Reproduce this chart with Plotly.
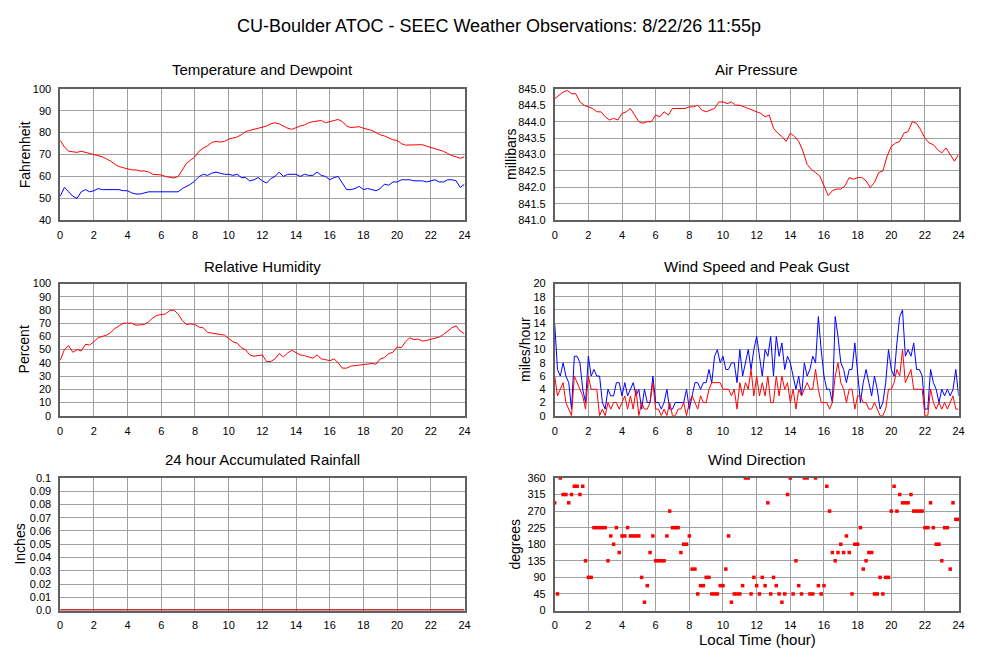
import plotly.graph_objects as go

W, H = 1000, 660

# time stamps in hours
hours_15 = [i / 4 for i in range(97)]
hours_10 = [i / 6 for i in range(145)]
hours_rain = [0, 2, 4, 6, 8, 10, 12, 14, 16, 18, 20, 22, 24]

# Fahrenheit, every 15 minutes (one row per hour)
temperature = [
    76.5, 73.5, 71.5, 71.3,
    71.0, 71.5, 71.0, 70.5,
    70.0, 69.5, 69.0, 68.0,
    67.0, 65.5, 64.5, 64.0,
    63.5, 63.0, 63.0, 62.5,
    62.5, 62.0, 61.0, 60.8,
    60.7, 60.0, 59.5, 59.3,
    60.0, 63.0, 66.0, 67.5,
    69.0, 71.5, 73.0, 74.0,
    75.5, 76.0, 75.7, 76.0,
    77.0, 77.5, 78.0, 79.0,
    80.5, 81.0, 81.5, 82.0,
    82.5, 83.0, 84.0, 84.5,
    84.0, 83.0, 82.0, 81.5,
    82.3, 83.0, 83.5, 84.5,
    85.0, 85.3, 85.5, 84.5,
    85.0, 85.5, 86.0, 85.0,
    83.0, 82.3, 82.5, 82.7,
    82.0, 81.5, 81.0, 80.0,
    79.0, 78.5, 77.5, 76.7,
    76.5, 75.0, 74.3, 74.3,
    74.2, 74.3, 74.5, 73.8,
    73.3, 72.5, 72.0, 71.5,
    70.5, 69.5, 69.0, 68.3,
    69.0,
]

dewpoint = [
    51.0, 55.0, 53.0, 51.0,
    50.0, 53.0, 54.0, 53.0,
    53.5, 54.5, 54.0, 54.0,
    54.0, 54.0, 54.0, 53.5,
    53.5, 52.5, 52.0, 52.0,
    52.5, 53.0, 53.0, 53.0,
    53.0, 53.0, 52.8, 53.0,
    53.0, 54.5, 55.5, 56.5,
    58.0, 60.0, 61.0, 60.5,
    61.5, 62.0, 61.5, 61.0,
    61.0, 60.5, 61.0, 59.5,
    59.5, 58.0, 58.5, 59.5,
    58.0, 57.0, 59.0, 60.0,
    62.0, 60.0, 61.0, 61.0,
    61.0, 60.0, 61.0, 60.5,
    60.5, 62.0, 60.5, 60.0,
    58.5, 59.5, 60.0, 57.0,
    54.0, 54.0, 54.5, 55.5,
    54.0, 54.5, 54.0, 53.5,
    54.5, 56.5, 56.0, 57.5,
    57.5, 58.5, 58.5, 58.5,
    58.0, 58.0, 58.0, 57.5,
    58.0, 58.5, 57.5, 57.5,
    58.5, 58.5, 58.0, 55.0,
    56.5,
]

# millibars
pressure = [
    844.70, 844.80, 844.90, 844.95,
    844.85, 844.85, 844.60, 844.50,
    844.45, 844.40, 844.30, 844.30,
    844.15, 844.05, 844.10, 844.05,
    844.25, 844.30, 844.40, 844.20,
    844.00, 843.95, 844.00, 844.00,
    844.20, 844.15, 844.30, 844.20,
    844.40, 844.40, 844.40, 844.40,
    844.45, 844.45, 844.50, 844.35,
    844.30, 844.35, 844.40, 844.60,
    844.60, 844.55, 844.60, 844.50,
    844.50, 844.45, 844.40, 844.35,
    844.30, 844.25, 844.15, 844.20,
    843.80, 843.65, 843.55, 843.40,
    843.65, 843.55, 843.40, 843.10,
    842.70, 842.55, 842.45, 842.35,
    842.05, 841.75, 841.90, 841.95,
    841.95, 842.05, 842.30, 842.25,
    842.30, 842.30, 842.20, 842.00,
    842.15, 842.45, 842.50, 842.95,
    843.25, 843.35, 843.40, 843.65,
    843.70, 844.00, 843.95, 843.75,
    843.50, 843.35, 843.30, 843.15,
    843.05, 843.20, 843.00, 842.80,
    843.00,
]

# percent
humidity = [
    42, 50, 53, 48,
    50, 49, 54, 53.5,
    56, 59, 60, 61,
    63, 66, 68, 70,
    70, 70, 68.5, 68.5,
    69, 71, 74, 76,
    76.5, 77, 79.5, 80,
    77, 72, 69, 69.5,
    69, 67, 66.5, 63,
    62.5, 62, 61.5, 61,
    58.5, 56, 55, 51.5,
    50, 46, 45, 45.5,
    46, 41, 41, 43,
    47, 44.5, 47.5, 49.5,
    48, 46, 45.5, 44.5,
    43.5, 46, 43, 42.5,
    41.5, 43, 40, 36,
    36, 37.5, 38, 38,
    38.5, 39, 39.5, 39,
    43, 44, 47, 48,
    52, 51.5, 56, 59,
    57.5, 58, 56.5, 57,
    58, 59, 59.5, 61.5,
    64, 66.5, 68, 64,
    62,
]

# miles/hour, every 10 minutes (one row per hour)
wind_speed = [
    6, 3, 4, 5, 2, 1,
    0, 6, 5, 4, 3, 1,
    6, 4, 4, 4, 0, 1,
    0, 2, 1, 2, 2, 1,
    2, 3, 1, 3, 1, 4,
    0, 2, 1, 1, 2, 5,
    1, 1, 0, 1, 0, 2,
    0, 0, 1, 1, 2, 0,
    2, 3, 2, 1, 3, 2,
    2, 4, 5, 5, 5, 5,
    4, 4, 4, 3, 4, 1,
    5, 3, 5, 4, 7, 3,
    6, 3, 5, 3, 6, 2,
    2, 6, 3, 6, 4, 5,
    2, 4, 1, 4, 3, 4,
    5, 4, 4, 7, 4, 2,
    2, 2, 1, 2, 6, 8,
    5, 4, 2, 4, 4, 1,
    3, 3, 2, 2, 1, 1,
    2, 1, 0, 0, 1, 4,
    4, 5, 7, 6, 10, 5,
    6, 7, 4, 4, 4, 4,
    0, 0, 4, 2, 1, 2,
    1, 2, 1, 2, 3, 1,
    1,
]

peak_gust = [
    14, 7, 6, 8, 6, 5,
    1, 9, 9, 8, 4, 2,
    9, 6, 7, 6, 6, 2,
    1, 4, 3, 3, 5, 5,
    3, 5, 3, 4, 5, 3,
    4, 1, 4, 2, 2, 6,
    2, 2, 1, 2, 4, 1,
    1, 2, 2, 2, 2, 4,
    1, 3, 5, 5, 4, 5,
    5, 7, 5, 9, 10, 8,
    9, 7, 7, 8, 8, 5,
    10, 6, 8, 10, 7, 10,
    12, 9, 6, 10, 9, 12,
    6, 12, 9, 11, 7, 9,
    8, 6, 4, 6, 3, 8,
    6, 7, 9, 8, 15, 10,
    6, 4, 4, 2, 15, 12,
    8, 7, 5, 7, 7, 11,
    6, 2, 5, 7, 5, 3,
    6, 4, 1, 2, 5, 10,
    7, 6, 11, 15, 16, 9,
    10, 9, 11, 7, 7, 6,
    1, 1, 7, 5, 4, 2,
    4, 3, 4, 3, 4, 7,
    3,
]

# degrees
wind_dir = [
    292.5, 45, 360, 315, 315, 292.5,
    315, 337.5, 337.5, 315, 337.5, 135,
    90, 90, 225, 225, 225, 225,
    225, 135, 202.5, 180, 225, 157.5,
    202.5, 202.5, 225, 202.5, 202.5, 202.5,
    202.5, 90, 22.5, 67.5, 157.5, 202.5,
    135, 135, 135, 135, 202.5, 270,
    225, 225, 225, 157.5, 180, 180,
    202.5, 112.5, 112.5, 45, 67.5, 67.5,
    90, 90, 45, 45, 45, 67.5,
    67.5, 112.5, 202.5, 22.5, 45, 45,
    45, 67.5, 360, 360, 45, 90,
    67.5, 45, 90, 67.5, 292.5, 45,
    90, 67.5, 45, 22.5, 45, 315,
    360, 45, 135, 67.5, 45, 360,
    360, 45, 45, 360, 67.5, 45,
    67.5, 337.5, 270, 157.5, 135, 157.5,
    180, 157.5, 202.5, 157.5, 45, 180,
    180, 225, 112.5, 135, 157.5, 157.5,
    45, 45, 90, 45, 90, 90,
    270, 337.5, 270, 315, 292.5, 292.5,
    292.5, 315, 270, 270, 270, 270,
    225, 225, 292.5, 225, 180, 180,
    135, 225, 225, 112.5, 292.5, 247.5,
    247.5,
]

# inches
rainfall = [0.0, 0.0, 0.0, 0.0, 0.0, 0.0, 0.0, 0.0, 0.0, 0.0, 0.0, 0.0, 0.0]

rain_ticks = [0.0, 0.01, 0.02, 0.03, 0.04, 0.05, 0.06, 0.07, 0.08, 0.09, 0.1]
rain_labels = ["0.0", "0.01", "0.02", "0.03", "0.04", "0.05", "0.06",
               "0.07", "0.08", "0.09", "0.1"]


def px(x):
    return x / W


def py(y):
    return 1 - y / H


cols = [(57.7, 465.7), (556.7, 964.3)]
rows = [(84.3, 218.3), (282.7, 417.3), (480.7, 615.7)]

FONT = "Liberation Sans, Arial, sans-serif"
RED = "#ff0000"
BLUE = "#0000ff"

fig = go.Figure()

fig.add_trace(go.Scatter(x=hours_15, y=temperature, mode="lines",
                         line=dict(color=RED, width=1), xaxis="x", yaxis="y"))
fig.add_trace(go.Scatter(x=hours_15, y=dewpoint, mode="lines",
                         line=dict(color=BLUE, width=1), xaxis="x", yaxis="y"))
fig.add_trace(go.Scatter(x=hours_15, y=pressure, mode="lines",
                         line=dict(color=RED, width=1), xaxis="x2", yaxis="y2"))
fig.add_trace(go.Scatter(x=hours_15, y=humidity, mode="lines",
                         line=dict(color=RED, width=1), xaxis="x3", yaxis="y3"))
fig.add_trace(go.Scatter(x=hours_10, y=peak_gust, mode="lines",
                         line=dict(color=BLUE, width=1), xaxis="x4", yaxis="y4"))
fig.add_trace(go.Scatter(x=hours_10, y=wind_speed, mode="lines",
                         line=dict(color=RED, width=1), xaxis="x4", yaxis="y4"))
fig.add_trace(go.Scatter(x=hours_rain, y=rainfall, mode="lines",
                         line=dict(color="#c83232", width=3), xaxis="x5", yaxis="y5"))
fig.add_trace(go.Scatter(x=hours_10, y=wind_dir, mode="markers",
                         marker=dict(color=RED, size=3.5, symbol="square", line=dict(width=0)),
                         cliponaxis=False, xaxis="x6", yaxis="y6"))

axis_common = dict(showgrid=True, gridcolor="#a0a0a0", gridwidth=1,
                   showline=True, linecolor="#606060", linewidth=1.5, mirror=True,
                   ticks="", zeroline=False, tickfont=dict(size=11, color="#000000"))

yranges = [
    dict(range=[40, 100], dtick=10),
    dict(range=[841, 845], dtick=0.5, tickformat=".1f"),
    dict(range=[0, 100], dtick=10),
    dict(range=[0, 20], dtick=2),
    dict(range=[0, 0.1], tickvals=rain_ticks, ticktext=rain_labels, layer="below traces"),
    dict(range=[0, 360], dtick=45),
]

layout = dict(
    autosize=True,
    margin=dict(l=0, r=0, t=0, b=0),
    paper_bgcolor="white", plot_bgcolor="white",
    showlegend=False,
    font=dict(family=FONT, color="#000000"),
)

for i in range(6):
    r, c = divmod(i, 2)
    n = "" if i == 0 else str(i + 1)
    x0, x1 = cols[c]
    y0, y1 = rows[r]
    layout["xaxis" + n] = dict(axis_common, domain=[px(x0), px(x1)], range=[0, 24], dtick=2,
                               anchor="y" + n, ticklabelstandoff=4)
    layout["yaxis" + n] = dict(axis_common, domain=[py(y1), py(y0)], anchor="x" + n,
                               ticklabelstandoff=5, **yranges[i])

titles = ["Temperature and Dewpoint", "Air Pressure", "Relative Humidity",
          "Wind Speed and Peak Gust", "24 hour Accumulated Rainfall", "Wind Direction"]
title_y = [65, 265, 462]
ytitles = ["Fahrenheit", "millibars", "Percent", "miles/hour", "Inches", "degrees"]
ytitle_x = [22, 512, 21, 526, 17.5, 517]

annotations = [dict(text="CU-Boulder ATOC - SEEC Weather Observations: 8/22/26 11:55p",
                    x=0.5, y=py(20), xref="paper", yref="paper", showarrow=False,
                    font=dict(size=18), xanchor="center", yanchor="middle")]
for i in range(6):
    r, c = divmod(i, 2)
    x0, x1 = cols[c]
    y0, y1 = rows[r]
    annotations.append(dict(text=titles[i], x=px((x0 + x1) / 2), y=py(title_y[r]),
                            xref="paper", yref="paper", showarrow=False,
                            font=dict(size=15), xanchor="center", yanchor="middle"))
    annotations.append(dict(text=ytitles[i], x=px(ytitle_x[i]), y=py((y0 + y1) / 2),
                            xref="paper", yref="paper", showarrow=False, textangle=-90,
                            font=dict(size=14), xanchor="center", yanchor="middle"))
annotations.append(dict(text="Local Time (hour)", x=px(761), y=py(645),
                        xref="paper", yref="paper", showarrow=False,
                        font=dict(size=15), xanchor="center", yanchor="middle"))
layout["annotations"] = annotations

fig.update_layout(layout)
fig.write_html(
    "out.html",
    default_width="100vw",
    default_height="100vh",
    config={"displayModeBar": False, "responsive": True},
    post_script=(
        "document.body.style.margin='0';"
        "document.body.style.overflow='hidden';"
        "Plotly.Plots.resize(document.getElementById('{plot_id}'));"
    ),
)
